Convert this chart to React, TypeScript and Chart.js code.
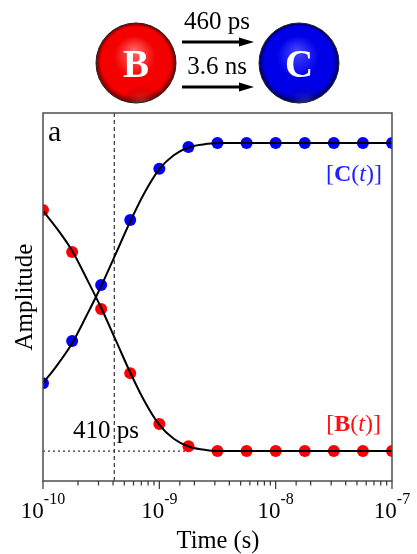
import React, { useEffect, useRef } from "react";
import { Chart, registerables } from "chart.js";

Chart.register(...registerables);

const pointTimes = [1e-10, 1.78e-10, 3.16e-10, 5.62e-10, 1e-9, 1.78e-9, 3.16e-9, 5.62e-9, 1e-8, 1.78e-8, 3.16e-8, 5.62e-8, 1e-7];
const pointsB = [0.782, 0.646, 0.461, 0.253, 0.088, 0.016, 0, 0, 0, 0, 0, 0, 0];
const pointsC = [0.22, 0.357, 0.539, 0.75, 0.916, 0.987, 1, 1, 1, 1, 1, 1, 1];

const curveTimes = [1e-10, 1.33e-10, 1.78e-10, 2.37e-10, 3.16e-10, 4.22e-10, 5.62e-10, 7.5e-10, 1e-9, 1.33e-9, 1.78e-9, 2.37e-9, 3.16e-9, 1e-8, 1e-7];
const curveB = [0.78, 0.72, 0.65, 0.56, 0.465, 0.36, 0.255, 0.16, 0.085, 0.04, 0.015, 0.005, 0, 0, 0];
const curveC = [0.22, 0.28, 0.35, 0.44, 0.535, 0.64, 0.745, 0.84, 0.915, 0.96, 0.985, 0.995, 1, 1, 1];

const crossTime = 4.1e-10;
const crossLevelEnd = 1.9e-9;
const crossLevel = 0;
const yMin = -0.097;
const yMax = 1.097;
const decadeExponents = [-10, -9, -8, -7];
const rateTexts = ["460 ps", "3.6 ns"];
const xTitle = "Time (s)";
const yTitle = "Amplitude";
const serif = '"Liberation Serif", serif';

function xy(xs: number[], ys: number[]) {
  return xs.map((x, i) => ({ x, y: ys[i] }));
}

function sphere(ctx: CanvasRenderingContext2D, cx: number, cy: number, r: number, hi: string, mid: string, deep: string, glow: string, label: string) {
  ctx.save();
  const g = ctx.createRadialGradient(cx - 2, cy - 12, 2, cx, cy, r);
  g.addColorStop(0, hi);
  g.addColorStop(0.5, mid);
  g.addColorStop(0.86, mid);
  g.addColorStop(1, deep);
  ctx.beginPath();
  ctx.arc(cx, cy, r, 0, Math.PI * 2);
  ctx.fillStyle = g;
  ctx.fill();
  ctx.clip();
  const b = ctx.createRadialGradient(cx + 6, cy + r + 4, 2, cx + 6, cy + r + 4, 22);
  b.addColorStop(0, glow);
  b.addColorStop(1, "rgba(0,0,0,0)");
  ctx.fillStyle = b;
  ctx.fillRect(cx - r, cy, r * 2, r);
  ctx.restore();
  ctx.save();
  ctx.beginPath();
  ctx.arc(cx, cy, r, 0, Math.PI * 2);
  ctx.lineWidth = 1;
  ctx.strokeStyle = "#222";
  ctx.stroke();
  ctx.fillStyle = "#fff";
  ctx.font = `bold 39px ${serif}`;
  ctx.textAlign = "center";
  ctx.textBaseline = "alphabetic";
  ctx.fillText(label, cx, cy + 14);
  ctx.restore();
}

function arrow(ctx: CanvasRenderingContext2D, x0: number, x1: number, y: number) {
  ctx.save();
  ctx.strokeStyle = "#000";
  ctx.fillStyle = "#000";
  ctx.lineWidth = 3;
  ctx.beginPath();
  ctx.moveTo(x0, y);
  ctx.lineTo(x1 - 10, y);
  ctx.stroke();
  ctx.beginPath();
  ctx.moveTo(x1, y);
  ctx.lineTo(x1 - 15, y - 4.5);
  ctx.lineTo(x1 - 15, y + 4.5);
  ctx.closePath();
  ctx.fill();
  ctx.restore();
}

function concentration(ctx: CanvasRenderingContext2D, right: number, baseline: number, letter: string, color: string) {
  ctx.save();
  ctx.fillStyle = color;
  const parts: [string, string][] = [
    ["[", `24px ${serif}`],
    [letter, `bold 24px ${serif}`],
    ["(", `24px ${serif}`],
    ["t", `italic 24px ${serif}`],
    [")", `24px ${serif}`],
    ["]", `24px ${serif}`],
  ];
  let width = 0;
  parts.forEach(([s, f]) => {
    ctx.font = f;
    width += ctx.measureText(s).width;
  });
  let x = right - width;
  ctx.textAlign = "left";
  parts.forEach(([s, f]) => {
    ctx.font = f;
    ctx.fillText(s, x, baseline);
    x += ctx.measureText(s).width;
  });
  ctx.restore();
}

const decorations = {
  id: "decorations",
  afterDatasetsDraw(chart: any) {
    const { ctx, chartArea: a, scales } = chart;
    const xs = scales.x;
    ctx.save();

    // frame
    ctx.strokeStyle = "#4d4d4d";
    ctx.lineWidth = 1.5;
    ctx.strokeRect(a.left, a.top, a.right - a.left, a.bottom - a.top);

    // ticks from the scale
    ctx.strokeStyle = "#333";
    ctx.lineWidth = 1.2;
    xs.ticks.forEach((t: any) => {
      const px = xs.getPixelForValue(t.value);
      const l = Math.log10(t.value);
      const isMajor = Math.abs(l - Math.round(l)) < 1e-6;
      ctx.beginPath();
      ctx.moveTo(px, a.bottom);
      ctx.lineTo(px, a.bottom + (isMajor ? 8 : 4.5));
      ctx.stroke();
    });

    // tick labels
    ctx.fillStyle = "#000";
    ctx.textBaseline = "alphabetic";
    ctx.textAlign = "left";
    decadeExponents.forEach((e) => {
      const px = xs.getPixelForValue(Math.pow(10, e));
      ctx.font = `23px ${serif}`;
      const base = ctx.measureText("10").width;
      ctx.font = `16px ${serif}`;
      const exp = `-${Math.abs(e)}`;
      const sup = ctx.measureText(exp).width;
      const x0 = px - (base + sup) / 2;
      ctx.font = `23px ${serif}`;
      ctx.fillText("10", x0, 518);
      ctx.font = `16px ${serif}`;
      ctx.fillText(exp, x0 + base, 504);
    });

    // axis titles
    ctx.font = `24.5px ${serif}`;
    ctx.textAlign = "center";
    ctx.fillText(xTitle, 218, 548);
    ctx.save();
    ctx.translate(32, 297);
    ctx.rotate(-Math.PI / 2);
    ctx.font = `25px ${serif}`;
    ctx.fillText(yTitle, 0, 0);
    ctx.restore();

    // panel marks
    ctx.textAlign = "left";
    ctx.font = `30px ${serif}`;
    ctx.fillText("a", 48, 141);
    ctx.font = `25px ${serif}`;
    ctx.fillText("410 ps", 73, 438);

    concentration(ctx, 382, 181, "C", "#2222ff");
    concentration(ctx, 381, 431, "B", "#ff1010");

    // scheme above the plot
    sphere(ctx, 136, 63, 40, "#ff6060", "#f40000", "#6a0000", "rgba(255,120,120,0.45)", "B");
    sphere(ctx, 299, 63, 40, "#3f3fff", "#0000e8", "#000058", "rgba(110,110,255,0.45)", "C");
    arrow(ctx, 182, 254, 42);
    arrow(ctx, 182, 254, 87);
    ctx.fillStyle = "#000";
    ctx.font = `25px ${serif}`;
    ctx.textAlign = "center";
    ctx.fillText(rateTexts[0], 217, 29);
    ctx.fillText(rateTexts[1], 217, 74);
    ctx.restore();
  },
};

export default function App() {
  const ref = useRef<HTMLCanvasElement>(null);
  useEffect(() => {
    const chart = new Chart(ref.current!, {
      type: "scatter",
      data: {
        datasets: [
          { label: "B fit", data: xy(curveTimes, curveB), showLine: true, borderColor: "#000", borderWidth: 2, pointRadius: 0, cubicInterpolationMode: "monotone" },
          { label: "C fit", data: xy(curveTimes, curveC), showLine: true, borderColor: "#000", borderWidth: 2, pointRadius: 0, cubicInterpolationMode: "monotone" },
          { label: "[B(t)]", data: xy(pointTimes, pointsB), backgroundColor: "#ff0000", borderColor: "#ff0000", pointBackgroundColor: "#ff0000", pointBorderColor: "#ff0000", pointRadius: 6, pointBorderWidth: 0 },
          { label: "[C(t)]", data: xy(pointTimes, pointsC), backgroundColor: "#0000ff", borderColor: "#0000ff", pointBackgroundColor: "#0000ff", pointBorderColor: "#0000ff", pointRadius: 6, pointBorderWidth: 0 },
          { label: "time marker", data: xy([crossTime, crossTime], [yMin, yMax]), showLine: true, borderColor: "#333", borderWidth: 1.2, borderDash: [4, 3], pointRadius: 0 },
          { label: "level marker", data: xy([1e-10, crossLevelEnd], [crossLevel, crossLevel]), showLine: true, borderColor: "#333", borderWidth: 1.2, borderDash: [2, 3], pointRadius: 0 },
        ],
      } as any,
      options: {
        responsive: false,
        animation: false,
        layout: { padding: { left: 43, right: 25, top: 113, bottom: 73 } },
        plugins: { legend: { display: false }, tooltip: { enabled: false } },
        scales: {
          x: {
            type: "logarithmic",
            min: 1e-10,
            max: 1e-7,
            grid: { display: false, drawTicks: false },
            border: { display: false },
            ticks: { display: false },
          },
          y: { type: "linear", min: yMin, max: yMax, display: false },
        },
      } as any,
      plugins: [decorations],
    });
    return () => chart.destroy();
  }, []);
  return <canvas ref={ref} width={417} height={554} style={{ position: "absolute", left: 0, top: 0, display: "block" }} />;
}
